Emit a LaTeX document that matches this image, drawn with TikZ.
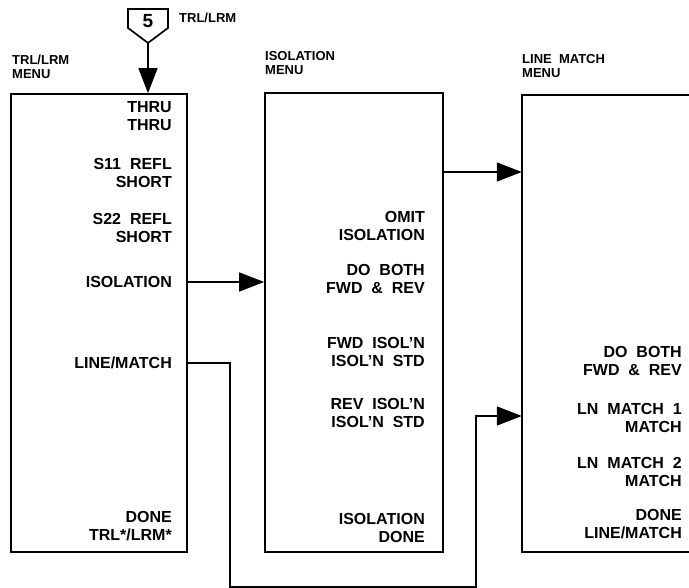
\documentclass[tikz,border=0pt]{standalone}
\usepackage{fontspec}
\setmainfont{Liberation Sans}
\usetikzlibrary{arrows.meta, calc}
\tikzset{
    menubox/.style  ={rectangle, draw=black, line width=1.7pt, inner sep=0pt},
    menuitem/.style ={anchor=east, align=right, inner sep=0pt, font=\fontsize{16}{18}\selectfont\bfseries},
    menuhead/.style ={anchor=west, align=left, inner sep=0pt, font=\fontsize{13}{14}\selectfont\bfseries},
    flowarrow/.style={-{Triangle[length=25pt, width=19pt]}, line width=1.6pt},
}

\begin{document}
\begin{tikzpicture}[x=1pt, y=-1pt]
    \useasboundingbox (0,0) rectangle (689,588);
    % menu boxes
    \node[menubox, minimum width=176pt, minimum height=458pt] (trl) at (99,323) {};
    \node[menubox, minimum width=178pt, minimum height=459pt] (isol) at (354,322.5) {};
    \node[rectangle, inner sep=0pt, minimum width=167pt, minimum height=457pt] (lm) at (605.5,323.5) {};
    \draw[line width=1.7pt] (lm.north east) -- (lm.north west) -- (lm.south west) -- (lm.south east);
    % headings
    \node[menuhead] (trlhead) at (12,67) {TRL/LRM\\MENU};
    \node[menuhead] (isolhead) at (265,63) {ISOLATION\\MENU};
    \node[menuhead] (lmhead) at (522,66.5) {LINE~~MATCH\\MENU};
    % off-page connector
    \node[font=\fontsize{19}{19}\selectfont\bfseries] (five) at (148,21) {5};
    \draw[line width=1.7pt] (128,9) -- (168,9) -- (168,28) -- (148,43) -- (128,28) -- cycle;
    \coordinate (tip) at (148,43);
    \node[menuhead] (conlabel) at (179,18) {TRL/LRM};
    % TRL/LRM menu
    \node[menuitem] (trlThru) at (172,116.5) {THRU\\THRU};
    \node[menuitem] (trlS11) at (172,172.5) {S11~~REFL\\SHORT};
    \node[menuitem] (trlS22) at (172,227.5) {S22~~REFL\\SHORT};
    \node[menuitem] (trlIsol) at (172,282) {ISOLATION};
    \node[menuitem] (trlLine) at (172,363) {LINE/MATCH};
    \node[menuitem] (trlDone) at (172,526.5) {DONE\\TRL*/LRM*};
    % isolation menu
    \node[menuitem] (isoOmit) at (425,226) {OMIT\\ISOLATION};
    \node[menuitem] (isoBoth) at (425,279) {DO~~BOTH\\FWD~~\&~~REV};
    \node[menuitem] (isoFwd) at (425,352) {FWD~~ISOL'N\\ISOL'N~~STD};
    \node[menuitem] (isoRev) at (425,413) {REV~~ISOL'N\\ISOL'N~~STD};
    \node[menuitem] (isoDone) at (425,528) {ISOLATION\\DONE};
    % line match menu
    \node[menuitem] (lmBoth) at (682,361) {DO~~BOTH\\FWD~~\&~~REV};
    \node[menuitem] (lmOne) at (682,418) {LN~~MATCH~~1\\MATCH};
    \node[menuitem] (lmTwo) at (682,472) {LN~~MATCH~~2\\MATCH};
    \node[menuitem] (lmDone) at (682,524) {DONE\\LINE/MATCH};
    % connectors
    \draw[flowarrow] (tip) -- (tip |- trl.north);
    \draw[flowarrow] (trl.east |- trlIsol) -- (isol.west |- trlIsol);
    \draw[flowarrow] (isol.east |- 0,172) -- (lm.west |- 0,172);
    \draw[flowarrow] (trl.east |- trlLine) -| (230,587) -| (476,416) -- (lm.west |- 0,416);
\end{tikzpicture}
\end{document}
